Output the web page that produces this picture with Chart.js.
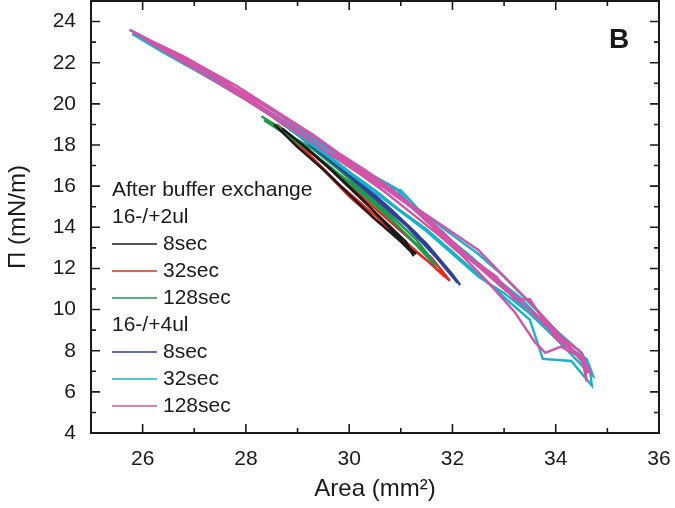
<!DOCTYPE html>
<html>
<head>
<meta charset="utf-8">
<script src="https://cdn.jsdelivr.net/npm/chart.js@4/dist/chart.umd.min.js"></script>
<style>
  html, body { margin: 0; padding: 0; background: #fff; }
  #box { width: 675px; height: 508px; }
</style>
</head>
<body>
<div id="box"><canvas id="isoChart"></canvas></div>
<script>
// tick labels
const xTicks = [26, 28, 30, 32, 34, 36];
const yTicks = [4, 6, 8, 10, 12, 14, 16, 18, 20, 22, 24];

// 16-/+2ul
const ul2s8X = [28.55, 29.0, 29.5, 30.0, 30.5, 31.0, 31.2, 31.25, 31.1, 30.6, 30.1, 29.6, 29.1, 28.7, 29.2, 29.7, 30.2, 30.7, 31.1, 31.3];
const ul2s8Y = [19.0, 17.9, 16.8, 15.6, 14.4, 13.3, 12.8, 12.6, 13.3, 14.5, 15.7, 16.9, 18.0, 18.8, 17.8, 16.7, 15.5, 14.2, 13.1, 12.7];
const ul2s32X = [28.5, 29.0, 29.5, 30.0, 30.5, 31.0, 31.5, 31.95, 31.6, 31.1, 30.6, 30.1, 29.6, 29.1, 28.6, 29.2, 29.8, 30.4, 31.0, 31.5, 31.85];
const ul2s32Y = [19.1, 18.0, 16.8, 15.5, 14.4, 13.4, 12.4, 11.4, 12.5, 13.6, 14.7, 15.8, 16.9, 18.0, 19.0, 17.6, 16.1, 14.8, 13.5, 12.4, 11.6];
const ul2s128X = [28.3, 28.8, 29.3, 29.8, 30.3, 30.8, 31.3, 31.7, 31.3, 30.8, 30.3, 29.8, 29.3, 28.35, 28.9, 29.5, 30.1, 30.7, 31.2, 31.65];
const ul2s128Y = [19.4, 18.6, 17.6, 16.6, 15.5, 14.4, 13.2, 12.1, 13.4, 14.6, 15.7, 16.8, 17.8, 19.2, 18.3, 17.2, 16.0, 14.7, 13.4, 12.2];

// 16-/+4ul
const ul4s8X = [28.5, 29.0, 29.5, 30.0, 30.5, 31.0, 31.5, 32.0, 32.15, 31.8, 31.3, 30.8, 30.3, 29.8, 29.3, 28.7, 29.3, 29.9, 30.5, 31.1, 31.7, 32.1];
const ul4s8Y = [19.4, 18.5, 17.5, 16.5, 15.5, 14.4, 13.2, 11.7, 11.2, 12.3, 13.7, 14.9, 16.0, 17.0, 18.0, 19.1, 17.9, 16.7, 15.4, 14.1, 12.5, 11.3];
const ul4s32X = [25.75, 26.5, 27.0, 27.5, 28.0, 28.5, 29.0, 29.5, 30.0, 30.5, 31.0, 31.5, 32.0, 32.5, 33.0, 33.5, 33.75, 34.3, 34.7,
  34.65, 34.3, 33.8, 33.3, 32.8, 32.3, 31.8, 31.3, 30.9, 30.4, 29.9, 29.3, 28.6, 27.8, 26.8, 25.9,
  26.5, 27.5, 28.5, 29.5, 30.5, 31.5, 32.5, 33.0, 33.5, 34.0, 34.5, 34.72,
  34.6, 34.1, 33.6, 33.1, 32.6, 32.1, 31.6, 31.1, 30.6, 30.1, 29.4, 28.4, 27.4, 26.4, 25.8,
  26.6, 27.6, 28.6, 29.6, 30.3, 30.6, 31.0, 31.35, 31.9, 32.5, 33.0, 33.5, 34.0, 34.5, 34.68];
const ul4s32Y = [23.6, 22.5, 21.8, 21.1, 20.3, 19.5, 18.6, 17.7, 16.7, 15.8, 14.8, 13.9, 12.8, 11.7, 10.6, 9.5, 7.6, 7.5, 6.3,
  7.3, 8.1, 9.3, 10.6, 11.6, 12.7, 13.7, 14.8, 15.9, 16.6, 17.3, 18.3, 19.4, 20.6, 22.0, 23.3,
  22.4, 21.0, 19.4, 17.6, 15.7, 13.8, 11.6, 10.8, 9.8, 8.6, 7.3, 6.8,
  7.6, 8.4, 9.6, 10.8, 11.9, 13.0, 14.1, 15.2, 16.1, 17.0, 18.1, 19.6, 21.1, 22.5, 23.4,
  22.3, 20.9, 19.4, 17.9, 16.7, 16.0, 15.8, 14.85, 13.8, 12.7, 11.6, 10.3, 9.0, 7.9, 7.1];
const ul4s128X = [25.75, 26.3, 26.8, 27.3, 27.8, 28.3, 28.8, 29.3, 29.8, 30.3, 30.8, 31.3, 31.8, 32.3, 32.85, 33.2, 33.5, 34.0, 34.5, 34.6,
  34.55, 34.1, 33.8, 33.6, 33.2, 32.7, 32.2, 31.7, 31.2, 30.7, 30.2, 29.6, 29.0, 28.2, 27.2, 26.2, 25.8,
  26.5, 27.5, 28.5, 29.5, 30.5, 31.2, 31.8, 32.4, 32.9, 33.4, 33.9, 34.4, 34.65,
  34.5, 34.0, 33.5, 33.0, 32.5, 31.9, 31.3, 30.8, 30.3, 29.7, 29.0, 28.0, 27.0, 26.0,
  26.9, 27.9, 28.9, 29.6, 30.25, 31.0, 31.5, 31.93, 32.5, 33.0, 33.6, 34.1, 34.55, 34.62];
const ul4s128Y = [23.6, 22.9, 22.3, 21.6, 20.9, 20.1, 19.3, 18.5, 17.6, 16.8, 15.9, 14.9, 13.8, 12.6, 11.6, 10.5, 10.5, 8.6, 7.7, 6.5,
  7.6, 8.2, 7.9, 8.4, 9.9, 11.3, 12.6, 13.7, 14.7, 15.7, 16.6, 17.6, 18.7, 20.0, 21.6, 23.0, 23.5,
  22.6, 21.2, 19.7, 18.1, 16.4, 15.0, 13.6, 12.3, 11.4, 10.2, 9.0, 7.8, 7.0,
  7.9, 8.9, 10.0, 11.0, 12.1, 13.4, 14.8, 15.7, 16.6, 17.5, 18.6, 20.2, 21.7, 23.2,
  22.0, 20.6, 19.1, 17.9, 16.6, 15.4, 14.6, 13.87, 12.9, 11.6, 10.1, 8.7, 7.4, 6.9];

const black = "#1a1a1a";
const red = "#e8261f";
const green = "#1f9a4b";
const blue = "#2f3f9b";
const cyan = "#17b2cb";
const magenta = "#d452a8";

function toPoints(xs, ys) {
  return xs.map((x, i) => ({ x: x, y: ys[i] }));
}

function series(label, xs, ys, color) {
  return {
    label: label,
    data: toPoints(xs, ys),
    borderColor: color,
    backgroundColor: color,
    borderWidth: 2.4,
    pointRadius: 0,
    showLine: true,
    tension: 0
  };
}

// first dataset is drawn on top
const datasets = [
  series("128sec 4ul", ul4s128X, ul4s128Y, magenta),
  series("32sec 4ul", ul4s32X, ul4s32Y, cyan),
  series("8sec 4ul", ul4s8X, ul4s8Y, blue),
  series("8sec 2ul", ul2s8X, ul2s8Y, black),
  series("128sec 2ul", ul2s128X, ul2s128Y, green),
  series("32sec 2ul", ul2s32X, ul2s32Y, red)
];

// legend rows: text, line colour (null = heading)
const legendRows = [
  ["After buffer exchange", null],
  ["16-/+2ul", null],
  ["8sec", black],
  ["32sec", red],
  ["128sec", green],
  ["16-/+4ul", null],
  ["8sec", blue],
  ["32sec", cyan],
  ["128sec", magenta]
];

const FONT = "'Liberation Sans', Arial, sans-serif";

// frame, inward ticks, panel letter and legend
const framePlugin = {
  id: "frame",
  afterDraw(chart) {
    const ctx = chart.ctx;
    const a = chart.chartArea;
    const xs = chart.scales.x;
    const ys = chart.scales.y;
    ctx.save();
    ctx.strokeStyle = "#1a1a1a";
    ctx.lineWidth = 2;
    ctx.strokeRect(a.left, a.top, a.right - a.left, a.bottom - a.top);

    ctx.lineWidth = 1.6;
    ctx.beginPath();
    for (let v = Math.ceil(xs.min); v <= xs.max; v++) {
      const len = v % 2 === 0 ? 9 : 5;
      const px = xs.getPixelForValue(v);
      ctx.moveTo(px, a.bottom);
      ctx.lineTo(px, a.bottom - len);
      ctx.moveTo(px, a.top);
      ctx.lineTo(px, a.top + len);
    }
    for (let v = Math.ceil(ys.min); v <= ys.max; v++) {
      const len = v % 2 === 0 ? 9 : 5;
      const py = ys.getPixelForValue(v);
      ctx.moveTo(a.left, py);
      ctx.lineTo(a.left + len, py);
      ctx.moveTo(a.right, py);
      ctx.lineTo(a.right - len, py);
    }
    ctx.stroke();

    ctx.fillStyle = "#1a1a1a";
    ctx.font = "bold 28px " + FONT;
    ctx.textBaseline = "alphabetic";
    ctx.textAlign = "left";
    ctx.fillText("B", 609, 48);

    ctx.font = "21px " + FONT;
    ctx.textBaseline = "middle";
    legendRows.forEach((row, i) => {
      const y = 190 + i * 27;
      if (row[1] === null) {
        ctx.fillStyle = "#1a1a1a";
        ctx.fillText(row[0], 112, y);
      } else {
        ctx.strokeStyle = row[1];
        ctx.lineWidth = 1.5;
        ctx.beginPath();
        ctx.moveTo(112, y);
        ctx.lineTo(157, y);
        ctx.stroke();
        ctx.fillStyle = "#1a1a1a";
        ctx.fillText(row[0], 163, y);
      }
    });
    ctx.restore();
  }
};

const chart = new Chart(document.getElementById("isoChart"), {
  type: "scatter",
  data: { datasets: datasets },
  options: {
    responsive: true,
    maintainAspectRatio: false,
    animation: false,
    layout: { padding: { top: 1, right: 16, left: 0, bottom: 0 } },
    plugins: {
      legend: { display: false },
      tooltip: { enabled: false }
    },
    scales: {
      x: {
        type: "linear",
        min: 25,
        max: 36,
        grid: { display: false, drawTicks: false, tickLength: 0 },
        border: { display: false },
        afterBuildTicks: (s) => { s.ticks = xTicks.map((v) => ({ value: v })); },
        afterFit: (s) => { s.height = 75; s.paddingLeft = 0; s.paddingRight = 0; },
        ticks: { color: "#1a1a1a", font: { family: FONT, size: 21 }, padding: 14, maxRotation: 0 },
        title: { display: true, text: "Area (mm²)", color: "#1a1a1a", font: { family: FONT, size: 24 }, padding: { top: 4, bottom: 4 } }
      },
      y: {
        type: "linear",
        min: 4,
        max: 25,
        grid: { display: false, drawTicks: false, tickLength: 0 },
        border: { display: false },
        afterBuildTicks: (s) => { s.ticks = yTicks.map((v) => ({ value: v })); },
        afterFit: (s) => { s.width = 91; s.paddingTop = 0; s.paddingBottom = 0; },
        ticks: { color: "#1a1a1a", font: { family: FONT, size: 21 }, padding: 15 },
        title: { display: true, text: "Π (mN/m)", color: "#1a1a1a", font: { family: FONT, size: 24 }, padding: { top: 4, bottom: 4 } }
      }
    }
  },
  plugins: [framePlugin]
});
</script>
</body>
</html>
